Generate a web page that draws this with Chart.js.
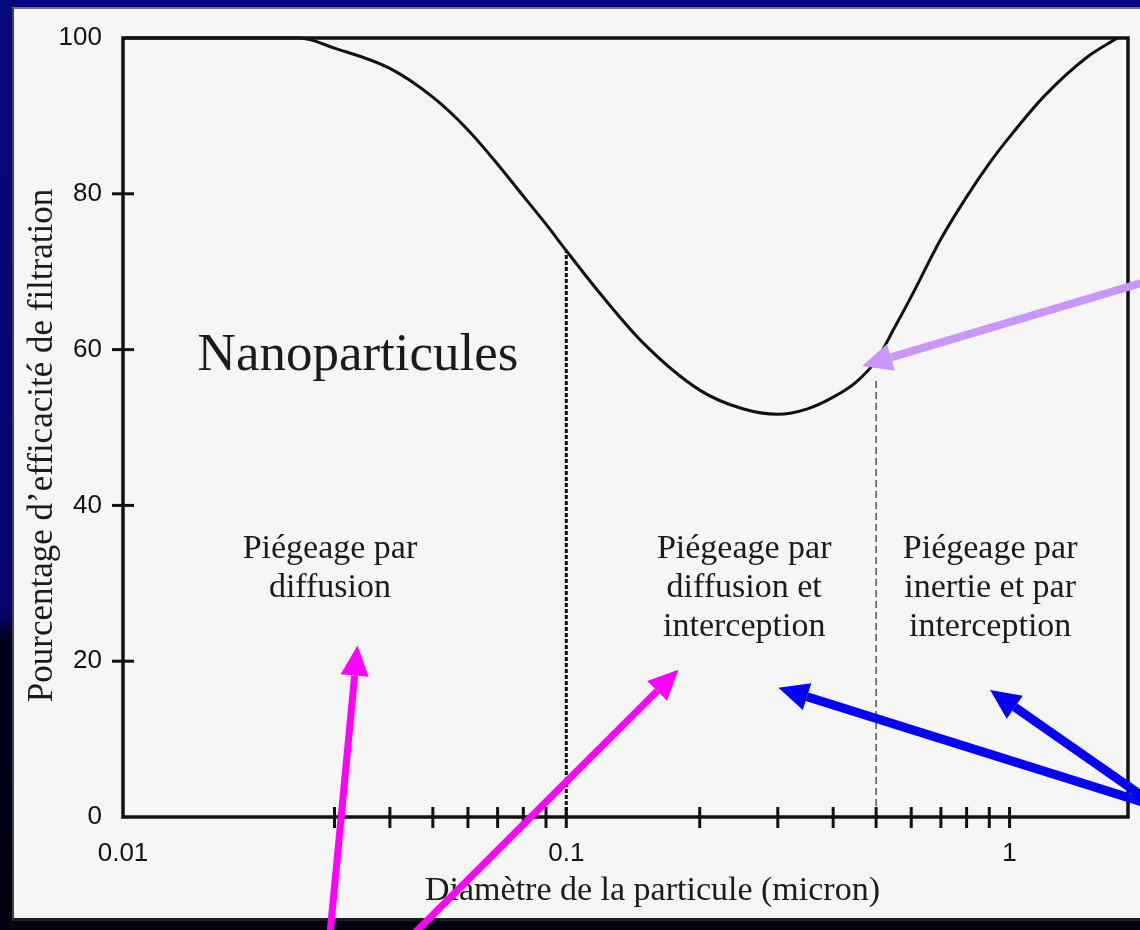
<!DOCTYPE html>
<html lang="fr">
<head>
<meta charset="utf-8">
<title>Efficacité de filtration</title>
<script src="https://cdn.jsdelivr.net/npm/chart.js@4.4.1/dist/chart.umd.min.js"></script>
<style>
  html, body { margin: 0; padding: 0; }
  body {
    width: 1140px; height: 930px; overflow: hidden; position: relative;
    background: linear-gradient(to bottom, #07077c 0%, #05056c 66%, #00001a 69%, #000010 100%);
  }
  .panel {
    position: absolute; left: 12px; top: 7px; width: 1128px; height: 914px;
    box-sizing: border-box; background: #f6f6f6;
    border-left: 2px solid #444; border-top: 2px solid #777; border-bottom: 3px solid #1c1c1c;
  }
  #chart { position: absolute; left: 0; top: 0; }
</style>
</head>
<body>
<div class="panel"></div>
<canvas id="chart" width="1140" height="930"></canvas>
<script>
// courbe d'efficacité (diamètre en micron, efficacité en %)
const diametres = [0.01, 0.02, 0.025, 0.03, 0.04, 0.05, 0.06, 0.07, 0.08, 0.09, 0.1,
  0.12, 0.15, 0.2, 0.25, 0.3, 0.35, 0.4, 0.45, 0.5, 0.55, 0.6, 0.7, 0.8, 0.9, 1.0, 1.2, 1.5, 1.75];
const efficacite = [100, 100, 100, 98.7, 96.1, 92.4, 88.2, 83.8, 79.7, 76.1, 72.7,
  67.0, 60.7, 54.8, 52.4, 51.7, 52.4, 53.9, 55.8, 58.6, 62.8, 66.8, 74.2, 79.6, 83.9, 87.3, 92.6, 97.6, 100];

// graduations
const xTicks = [0.01, 0.03, 0.04, 0.05, 0.06, 0.07, 0.08, 0.09, 0.1,
  0.2, 0.3, 0.4, 0.5, 0.6, 0.7, 0.8, 0.9, 1];
const xLabels = [0.01, 0.1, 1];
const yTicks = [0, 20, 40, 60, 80, 100];

// limites entre les zones de piégeage
const limitesX = [0.1, 0.5];
const limitesHaut = [72.7, 56.5];

// textes des zones
const zonesX = [0.0293, 0.252, 0.904];
const zonesTexte = [
  ["Piégeage par", "diffusion"],
  ["Piégeage par", "diffusion et", "interception"],
  ["Piégeage par", "inertie et par", "interception"]
];
const zonesBase = 33.2;

// flèches de commentaire : [x queue, y queue, x pointe, y pointe]
const flechesRose = [[0.0293, -15.1, 0.0338, 22.0], [0.0451, -15.1, 0.179, 18.9]];
const flechesBleu = [[2.05, 1.7, 0.301, 16.6], [2.05, 2.2, 0.904, 16.3]];
const flechesMauve = [[2.05, 68.8, 0.465, 57.9]];

const titreX = "Diamètre de la particule (micron)";
const titreY = "Pourcentage d’efficacité de filtration";

const SERIF = '"Liberation Serif", "Times New Roman", serif';
const SANS = '"Liberation Sans", Arial, sans-serif';

const decor = {
  id: "decor",
  afterDraw(chart) {
    const { ctx, chartArea: a, scales: { x, y } } = chart;
    const seg = (x1, y1, x2, y2) => {
      ctx.beginPath(); ctx.moveTo(x1, y1); ctx.lineTo(x2, y2); ctx.stroke();
    };
    ctx.save();

    // cadre du graphique
    ctx.strokeStyle = "#111";
    ctx.lineWidth = 3.5;
    ctx.strokeRect(a.left, a.top, a.right - a.left, a.bottom - a.top);

    // graduations qui traversent les axes
    ctx.lineWidth = 3;
    xTicks.forEach(v => {
      if (v === xTicks[0]) return;
      const px = x.getPixelForValue(v);
      seg(px, a.bottom - 10, px, a.bottom + 11);
    });
    yTicks.slice(1, -1).forEach(v => {
      const py = y.getPixelForValue(v);
      seg(a.left - 11, py, a.left + 11, py);
    });

    // titres des axes
    ctx.fillStyle = "#1b1b1b";
    ctx.textAlign = "center";
    ctx.textBaseline = "alphabetic";
    ctx.font = "34px " + SERIF;
    ctx.fillText(titreX, (a.left + a.right) / 2 + 27, a.bottom + 83);
    ctx.save();
    ctx.translate(52, (a.top + a.bottom) / 2 + 18);
    ctx.rotate(-Math.PI / 2);
    ctx.font = "35px " + SERIF;
    ctx.fillText(titreY, 0, 0);
    ctx.restore();

    // textes des zones
    ctx.font = "53px " + SERIF;
    ctx.fillText("Nanoparticules", x.getPixelForValue(0.0339), y.getPixelForValue(57.4));
    ctx.font = "34px " + SERIF;
    zonesTexte.forEach((lignes, i) => {
      const px = x.getPixelForValue(zonesX[i]);
      const py = y.getPixelForValue(zonesBase);
      lignes.forEach((t, j) => ctx.fillText(t, px, py + j * 39));
    });

    // flèches
    const fleche = (f, couleur, largeur) => {
      const x1 = x.getPixelForValue(f[0]), y1 = y.getPixelForValue(f[1]);
      const x2 = x.getPixelForValue(f[2]), y2 = y.getPixelForValue(f[3]);
      const ang = Math.atan2(y2 - y1, x2 - x1);
      const tete = 30, demi = 14;
      const bx = x2 - tete * Math.cos(ang), by = y2 - tete * Math.sin(ang);
      ctx.strokeStyle = couleur;
      ctx.fillStyle = couleur;
      ctx.lineWidth = largeur;
      ctx.lineCap = "butt";
      seg(x1, y1, bx, by);
      ctx.beginPath();
      ctx.moveTo(x2, y2);
      ctx.lineTo(bx + demi * Math.sin(ang), by - demi * Math.cos(ang));
      ctx.lineTo(bx - demi * Math.sin(ang), by + demi * Math.cos(ang));
      ctx.closePath();
      ctx.fill();
    };
    flechesRose.forEach(f => fleche(f, "#ff00ff", 7));
    flechesBleu.forEach(f => fleche(f, "#0000ff", 9));
    flechesMauve.forEach(f => fleche(f, "#c997fb", 8));

    ctx.restore();
  }
};

new Chart(document.getElementById("chart"), {
  type: "line",
  data: {
    datasets: [
      {
        data: diametres.map((d, i) => ({ x: d, y: efficacite[i] })),
        borderColor: "#111",
        borderWidth: 3,
        pointRadius: 0,
        cubicInterpolationMode: "monotone",
        clip: 6
      },
      {
        data: [{ x: limitesX[0], y: 0 }, { x: limitesX[0], y: limitesHaut[0] }],
        borderColor: "#111",
        borderWidth: 3,
        borderDash: [4, 2],
        pointRadius: 0
      },
      {
        data: [{ x: limitesX[1], y: 0 }, { x: limitesX[1], y: limitesHaut[1] }],
        borderColor: "#555",
        borderWidth: 1.5,
        borderDash: [7, 4],
        pointRadius: 0
      }
    ]
  },
  options: {
    responsive: false,
    devicePixelRatio: 1,
    animation: false,
    layout: { padding: { top: 38, right: 12, left: 0, bottom: 0 } },
    plugins: {
      legend: { display: false },
      tooltip: { enabled: false }
    },
    scales: {
      x: {
        type: "logarithmic",
        min: 0.01,
        max: 1.85,
        afterBuildTicks: s => { s.ticks = xTicks.map(v => ({ value: v })); },
        afterFit: s => { s.height = 113; },
        grid: { display: false, drawTicks: false },
        border: { display: false },
        ticks: {
          autoSkip: false,
          maxRotation: 0,
          padding: 21,
          color: "#111",
          font: { family: SANS, size: 26 },
          callback: v => (xLabels.includes(v) ? String(v) : "")
        }
      },
      y: {
        min: 0,
        max: 100,
        afterBuildTicks: s => { s.ticks = yTicks.map(v => ({ value: v })); },
        afterFit: s => { s.width = 123; },
        grid: { display: false, drawTicks: false },
        border: { display: false },
        ticks: {
          padding: 21,
          color: "#111",
          font: { family: SANS, size: 26 }
        }
      }
    }
  },
  plugins: [decor]
});
</script>
</body>
</html>
